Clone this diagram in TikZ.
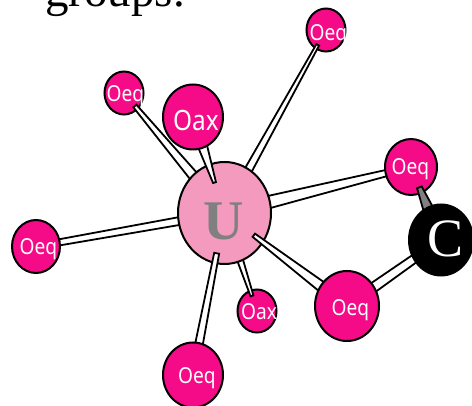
\documentclass[tikz,border=0pt]{standalone}
\usepackage{fontspec}
\usetikzlibrary{calc,shapes.geometric}
\newfontfamily\timesfont{Liberation Serif}
\newfontfamily\labelfont[FakeStretch=0.87]{Noto Sans}
\definecolor{oxy}{HTML}{F50A87}
\definecolor{uran}{HTML}{F49ABE}
\definecolor{ugrey}{HTML}{808080}
\pgfdeclarelayer{paper}\pgfdeclarelayer{atomsA}\pgfdeclarelayer{bondsA}\pgfdeclarelayer{hub}
\pgfdeclarelayer{bondsB}\pgfdeclarelayer{atomsB}\pgfdeclarelayer{bondsC}\pgfdeclarelayer{carbon}
\pgfsetlayers{paper,atomsA,bondsA,hub,bondsB,atomsB,bondsC,carbon,main}
\tikzset{
  atom/.style={ellipse,draw=black,line width=2pt,inner sep=0pt,outer sep=0pt},
  oxygen/.style={atom,fill=oxy},
  bondshape/.style={draw=black,line width=1.8pt,fill=white,line join=miter},
  olabel/.style={text=white,inner sep=0pt,anchor=base,font=\labelfont\fontsize{22}{22}\selectfont},
}
% #1 style, #2 from, #3 to, #4 dist, #5 half width, #6 dist, #7 half width
\newcommand{\wedgebond}[7][]{%
  \coordinate (wp) at ($(#2.center)!#4pt!(#3.center)$);%
  \coordinate (wq) at ($(#2.center)!#6pt!(#3.center)$);%
  \draw[bondshape,#1] ($(wp)!#5pt!90:(wq)$) -- ($(wp)!#5pt!-90:(wq)$) -- ($(wq)!#7pt!90:(wp)$) -- ($(wq)!#7pt!-90:(wp)$) -- cycle;%
}
\begin{document}
\begin{tikzpicture}[x=1pt,y=-1pt]
\useasboundingbox (0,0) rectangle (472,406);
\begin{pgfonlayer}{paper}
  \fill[white] (0,0) rectangle (472,406);
\end{pgfonlayer}
% atoms
\begin{pgfonlayer}{atomsA}
  \node[oxygen,minimum width=39pt,minimum height=43pt] (otl) at (124,93) {};
  \node[oxygen,minimum width=39pt,minimum height=43pt] (otop) at (326,30) {};
  \node[oxygen,minimum width=39pt,minimum height=43pt] (oaxs) at (257,311) {};
\end{pgfonlayer}
\begin{pgfonlayer}{hub}
  \node[atom,fill=uran,minimum width=93pt,minimum height=102pt] (u) at (224.5,213) {};
\end{pgfonlayer}
\begin{pgfonlayer}{atomsB}
  \node[oxygen,minimum width=60pt,minimum height=65pt] (oaxl) at (193,117) {};
  \node[oxygen,minimum width=52pt,minimum height=56pt] (oright) at (411,167) {};
  \node[oxygen,minimum width=64pt,minimum height=70pt] (olr) at (347,306) {};
  \node[oxygen,minimum width=60pt,minimum height=65pt] (obot) at (193,375) {};
  \node[oxygen,minimum width=48pt,minimum height=53pt] (oleft) at (36,246.5) {};
\end{pgfonlayer}
\begin{pgfonlayer}{carbon}
  \node[atom,fill=black,minimum width=64pt,minimum height=71pt] (c) at (441,240) {};
\end{pgfonlayer}
% bonds
\begin{pgfonlayer}{bondsA}
  \wedgebond{otl}{u}{17}{2}{120}{5}
  \wedgebond{otop}{u}{17}{1.5}{175}{4}
  \wedgebond{oaxs}{u}{16}{1.5}{70}{3.5}
  \wedgebond{oright}{u}{20}{3}{160}{6.5}
  \wedgebond{oleft}{u}{15}{3}{160}{4}
  \wedgebond{olr}{c}{20}{5}{90}{4}
\end{pgfonlayer}
\begin{pgfonlayer}{bondsB}
  \wedgebond{oaxl}{u}{25}{5}{69}{1.5}
  \wedgebond{olr}{u}{20}{5.5}{117}{2}
  \wedgebond{obot}{u}{20}{4}{124}{2.5}
\end{pgfonlayer}
\begin{pgfonlayer}{bondsC}
  \wedgebond[fill=ugrey]{oright}{c}{22}{2.5}{45}{5}
\end{pgfonlayer}
% labels
\node[inner sep=0pt,anchor=base west,font=\timesfont\fontsize{47}{47}\selectfont] (title) at (45,6.5) {groups.};
\node[text=ugrey,inner sep=0pt,anchor=base,font=\timesfont\bfseries\fontsize{56}{56}\selectfont] (ulabel) at (224,240) {U};
\node[text=white,inner sep=0pt,anchor=base,font=\timesfont\fontsize{54}{54}\selectfont] (clabel) at (446,257) {C};
\node[olabel,font=\labelfont\fontsize{28}{28}\selectfont] (laxl) at (196,131) {Oax};
\node[olabel] (lright) at (410.5,175) {Oeq};
\node[olabel] (llr) at (350.5,315.7) {Oeq};
\node[olabel] (lbot) at (197,384) {Oeq};
\node[olabel] (lleft) at (38.5,255) {Oeq};
\node[olabel] (laxs) at (259,320) {Oax};
\begin{scope}
  \clip (100,70) rectangle (144,120);
  \node[olabel] (ltl) at (125.5,101.7) {Oeq};
\end{scope}
\begin{scope}
  \clip (300,10) rectangle (346,50);
  \node[olabel] (ltop) at (328.5,41) {Oeq};
\end{scope}
\end{tikzpicture}
\end{document}
